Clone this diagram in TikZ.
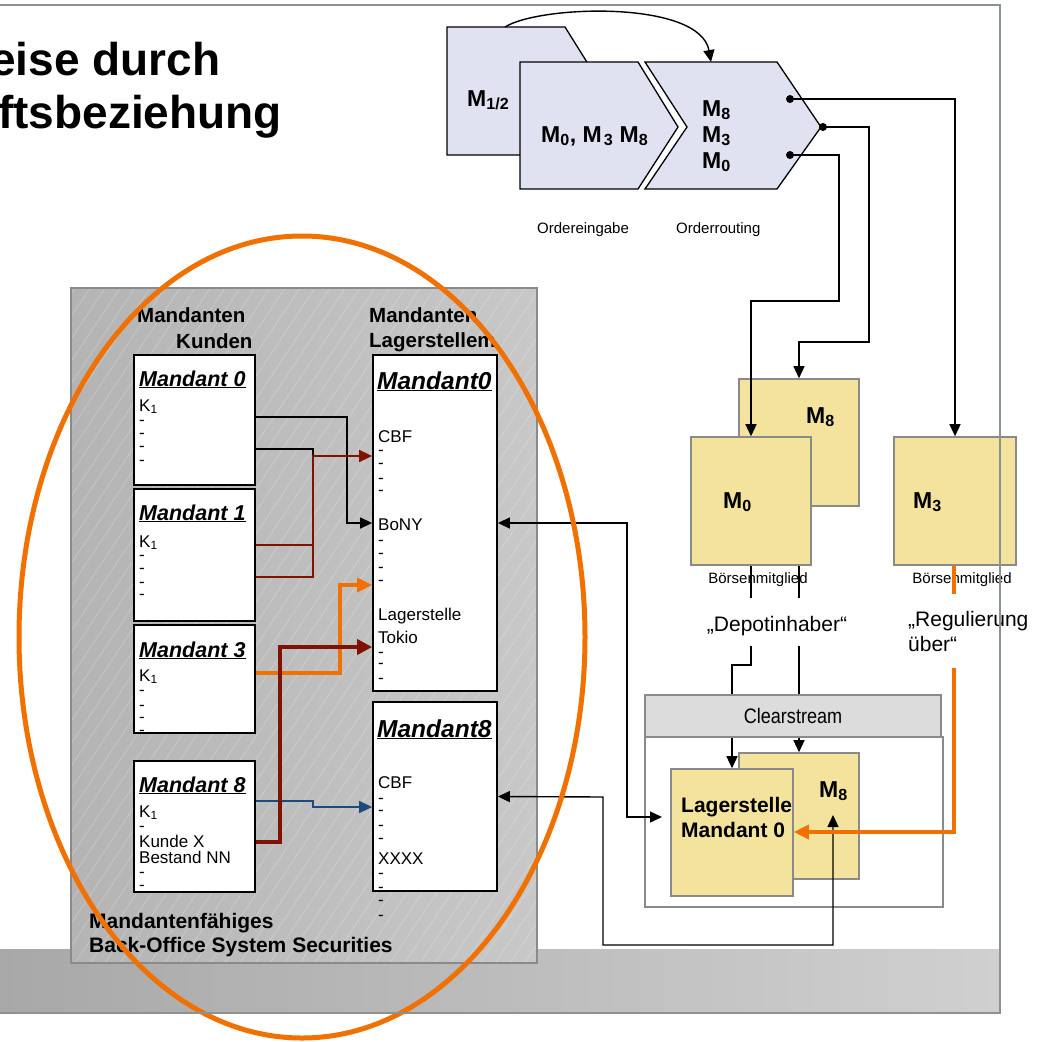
\documentclass[tikz,border=0pt]{standalone}
\usepackage{fontspec}
\setmainfont{Liberation Sans}
\newfontfamily\narrowsans[FakeStretch=0.86]{Liberation Sans}
\usetikzlibrary{arrows.meta}

\definecolor{chevfill}{RGB}{224,226,241}
\definecolor{ylw}{RGB}{243,227,156}
\definecolor{framec}{RGB}{138,146,146}
\definecolor{boxgray}{RGB}{138,138,138}
\definecolor{hdrgray}{RGB}{220,220,220}
\definecolor{drkred}{RGB}{128,18,0}
\definecolor{orng}{RGB}{240,112,0}
\definecolor{bluish}{RGB}{31,73,125}
\definecolor{gboxL}{RGB}{180,180,180}
\definecolor{gboxR}{RGB}{200,200,200}
\definecolor{bandL}{RGB}{168,168,168}
\definecolor{bandR}{RGB}{208,208,208}

\begin{document}
\begin{tikzpicture}[x=1pt,y=-1pt,
  lbl/.style={inner sep=0pt, anchor=base west},
  regtxt/.style={lbl, font=\fontsize{17}{17}\selectfont},
  smalltxt/.style={inner sep=0pt, anchor=base, font=\fontsize{15}{15}\selectfont},
  quotetxt/.style={font=\fontsize{21}{25}\selectfont},
  hdr/.style={lbl, font=\fontsize{20.5}{20.5}\selectfont\bfseries},
  mtitle/.style={lbl, font=\fontsize{21.5}{21.5}\selectfont\bfseries\itshape},
  ltitle/.style={lbl, font=\fontsize{24.5}{24.5}\selectfont\bfseries\itshape},
  chevtxt/.style={lbl, font=\fontsize{23}{23}\selectfont\bfseries},
  ylbl/.style={lbl, font=\fontsize{23}{23}\selectfont\bfseries},
  lagtxt/.style={lbl, font=\fontsize{21}{21}\selectfont\bfseries},
  mbox/.style={rectangle, draw=black, line width=1.8pt, fill=white, inner sep=0pt},
  ybox/.style={rectangle, draw=boxgray, line width=1.6pt, fill=ylw, inner sep=0pt},
  chev/.style={draw=black, line width=1.3pt, fill=chevfill, line join=miter},
  dot/.style={circle, fill=black, inner sep=0pt, minimum size=8pt},
  hatch/.style={white, opacity=0.28, line width=0.6pt},
  plain/.style={line width=1.4pt},
  arr/.style={line width=1.4pt, -{Triangle[length=12pt,width=11pt]}},
  darr/.style={line width=1.4pt, {Triangle[length=12pt,width=11pt]}-{Triangle[length=12pt,width=11pt]}},
  redthin/.style={drkred, line width=1.5pt},
  redarr/.style={drkred, line width=1.5pt, -{Triangle[length=13pt,width=12pt]}},
  redthick/.style={drkred, line width=4.5pt, -{Triangle[length=15pt,width=15pt]}},
  orarr/.style={orng, line width=3.5pt, -{Triangle[length=15pt,width=14pt]}},
  bluearr/.style={bluish, line width=1.5pt, -{Triangle[length=13pt,width=12pt]}}
]
\useasboundingbox (0,0) rectangle (1043,1041);
\clip (0,0) rectangle (1043,1041);
\fill[white] (0,0) rectangle (1043,1041);

% grey band along the bottom
\shade[left color=bandL, right color=bandR] (0,949) rectangle (1000,1013);

% heading
\node[lbl, font=\fontsize{46}{46}\selectfont\bfseries] (title1) at (-10,75) {eise durch};
\node[lbl, font=\fontsize{46}{46}\selectfont\bfseries] (title2) at (-2,128) {ftsbeziehung};

% order entry and routing chevrons
\draw[chev] (447,27) -- (565,27) -- (605,91) -- (565,155) -- (447,155) -- cycle;
\draw[chev] (520,62) -- (638,62) -- (678,127) -- (638,189) -- (520,189) -- cycle;
\draw[chev] (645,62) -- (777,62) -- (821,127) -- (777,189) -- (645,189) -- (687,127) -- cycle;
\node[chevtxt] (m12) at (467,106) {M\textsubscript{1/2}};
\node[chevtxt] (m038) at (541,142) {M\textsubscript{0}, M\kern2pt\textsubscript{3} M\textsubscript{8}};
\node[chevtxt] (r8) at (702,116) {M\textsubscript{8}};
\node[chevtxt] (r3) at (702,142) {M\textsubscript{3}};
\node[chevtxt] (r0) at (702,168) {M\textsubscript{0}};
\node[smalltxt, anchor=base west] (oe) at (537,233) {Ordereingabe};
\node[smalltxt, anchor=base west] (orr) at (676,233) {Orderrouting};
\coordinate (c12top) at (505,27);
\coordinate (rtop) at (711,62);
\draw[arr] (c12top) .. controls (540,5) and (700,0) .. (rtop);

% exchange members
\node[ybox, minimum width=120, minimum height=127] (m8box) at (799,442.5) {};
\node[ybox, minimum width=120, minimum height=128] (m0box) at (751,501) {};
\node[ybox, minimum width=122, minimum height=128] (m3box) at (955,501) {};
\node[ylbl] (m8t) at (806,423) {M\textsubscript{8}};
\node[ylbl] (m0t) at (723,508) {M\textsubscript{0}};
\node[ylbl] (m3t) at (913,508) {M\textsubscript{3}};
\node[smalltxt] (bm0) at (758,583) {Börsenmitglied};
\node[smalltxt] (bm3) at (962,583) {Börsenmitglied};

% routing outputs
\node[dot] (tdot) at (790,99) {};
\node[dot] (mdot) at (823,127) {};
\node[dot] (bdot) at (790,155) {};
\draw[arr] (tdot.center) -- (955,99) -- (m3box.north);
\draw[arr] (mdot.center) -- (869,127) -- (869,342) -- (799,342) -- (m8box.north);
\draw[arr] (bdot.center) -- (839,155) -- (839,301) -- (751,301) -- (m0box.north);

% Clearstream
\node[rectangle, draw=boxgray, line width=1.6pt, fill=white, inner sep=0pt,
      minimum width=298, minimum height=170] (csbody) at (794,822) {};
\node[ybox, minimum width=120, minimum height=126] (cm8) at (799,816) {};
\node[ybox, minimum width=122, minimum height=127] (lag) at (732,832.5) {};
\node[ylbl] (cm8t) at (819,797) {M\textsubscript{8}};
\node[lagtxt] (lagt1) at (681,812) {Lagerstelle};
\node[lagtxt] (lagt2) at (681,837) {Mandant 0};
\draw[arr] (m0box.south) -- (751,665) -- (732,665) -- (lag.north);
\draw[arr] (m0box.south -| cm8.north) -- (cm8.north);
\node[rectangle, draw=boxgray, line width=1.6pt, fill=hdrgray, inner sep=0pt,
      minimum width=296, minimum height=42,
      font=\narrowsans\fontsize{21}{21}\selectfont] (cshead) at (793,716) {Clearstream};

% back-office system
\shade[left color=gboxL, right color=gboxR] (71,288) rectangle (537,963);
\begin{scope}
  \clip (71,288) rectangle (537,963);
  \foreach \i in {-390,-375,...,540} \draw[hatch] (\i,963) -- ++(450,-675);
\end{scope}
\draw[boxgray, line width=1.6pt] (71,288) rectangle (537,963);

\node[hdr] (hk1) at (137,322) {Mandanten};
\node[hdr] (hk2) at (176,348) {Kunden};
\node[hdr] (hl1) at (369,322) {Mandanten};
\node[hdr] (hl2) at (369,347) {Lagerstellem};

% client ledgers
\node[mbox, minimum width=121, minimum height=130] (mk0) at (194.5,420) {};
\node[mbox, minimum width=121, minimum height=132] (mk1) at (194.5,555) {};
\node[mbox, minimum width=121, minimum height=108] (mk3) at (194.5,679) {};
\node[mbox, minimum width=121, minimum height=131] (mk8) at (194.5,826.5) {};

\node[mtitle] (mk0t) at (139,386) {\underline{Mandant 0}};
\node[regtxt] (mk0k) at (139,411) {K\textsubscript{1}};
\foreach \y [count=\k] in {425,438,451,465} \node[regtxt] (mk0d\k) at (139,\y) {-};

\node[mtitle] (mk1t) at (139,520) {\underline{Mandant 1}};
\node[regtxt] (mk1k) at (139,547) {K\textsubscript{1}};
\foreach \y [count=\k] in {560,573,587,599} \node[regtxt] (mk1d\k) at (139,\y) {-};

\node[mtitle] (mk3t) at (139,657) {\underline{Mandant 3}};
\node[regtxt] (mk3k) at (139,681) {K\textsubscript{1}};
\foreach \y [count=\k] in {695,710,722,735} \node[regtxt] (mk3d\k) at (139,\y) {-};

\node[mtitle] (mk8t) at (139,792) {\underline{Mandant 8}};
\node[regtxt] (mk8k) at (139,817) {K\textsubscript{1}};
\node[regtxt] (mk8d1) at (139,831) {-};
\node[regtxt] (mk8x) at (139,847) {Kunde X};
\node[regtxt] (mk8b) at (139,863) {Bestand NN};
\node[regtxt] (mk8d2) at (139,877) {-};
\node[regtxt] (mk8d3) at (139,890) {-};

% custody ledgers
\node[mbox, minimum width=124, minimum height=336] (ml0) at (435,523) {};
\node[mbox, minimum width=124, minimum height=189] (ml8) at (435,796.5) {};

\node[ltitle] (ml0t) at (377,389) {\underline{Mandant0}};
\node[regtxt] (ml0c) at (378,442) {CBF};
\foreach \y [count=\k] in {455,468,483,495} \node[regtxt] (ml0a\k) at (378,\y) {-};
\node[regtxt] (ml0b) at (378,530) {BoNY};
\foreach \y [count=\k] in {545,558,572,585} \node[regtxt] (ml0b\k) at (378,\y) {-};
\node[regtxt] (ml0l) at (378,620) {Lagerstelle};
\node[regtxt] (ml0tk) at (378,643) {Tokio};
\foreach \y [count=\k] in {657,668,683} \node[regtxt] (ml0c\k) at (378,\y) {-};

\node[ltitle] (ml8t) at (377,737) {\underline{Mandant8}};
\node[regtxt] (ml8c) at (378,788) {CBF};
\foreach \y [count=\k] in {803,815,830,843} \node[regtxt] (ml8a\k) at (378,\y) {-};
\node[regtxt] (ml8x) at (378,864) {XXXX};
\foreach \y [count=\k] in {878,892,905,920} \node[regtxt] (ml8b\k) at (378,\y) {-};

\node[lbl, font=\fontsize{21}{21}\selectfont\bfseries] (bo1) at (89,928) {Mandantenfähiges};
\node[lbl, font=\fontsize{21}{21}\selectfont\bfseries] (bo2) at (89,952) {Back-Office System Securities};

% client to custody mappings
\draw[arr] (mk0.east |- 0,417) -- (347,417) -- (347,523) -- (ml0.west);
\draw[plain] (mk0.east |- 0,449) -- (313,449) -- (313,456);
\draw[redthin] (mk1.east |- 0,545) -- (313,545);
\draw[redarr] (mk1.east |- 0,577) -- (313,577) -- (313,456) -- (ml0.west |- 0,456);
\draw[orarr] (mk3.east |- 0,673) -- (340,673) -- (340,585) -- (ml0.west |- 0,585);
\draw[bluearr] (mk8.east |- 0,801) -- (313,801) -- (313,807) -- (ml8.west |- 0,807);
\draw[redthick] (mk8.east |- 0,842) -- (280,842) -- (280,647) -- (ml0.west |- 0,647);

% links to the custodian
\coordinate (lagin) at (662,817);
\draw[darr] (ml0.east) -- (627,523) -- (627,817) -- (lagin);
\coordinate (cm8in) at (833,815);
\draw[darr] (ml8.east) -- (603,797) -- (603,945) -- (833,945) -- (cm8in);
\draw[orarr] (954,0 |- m3box.south) -- (954,832) -- (lag.east |- 0,832);

% role labels
\node[anchor=base, inner sep=0pt, inner xsep=3pt, fill=white, text height=33pt, text depth=15pt,
      font=\fontsize{21}{21}\selectfont] (dep) at (777,631) {„Depotinhaber“};
\node[anchor=north west, inner sep=0pt, inner xsep=2pt, fill=white, minimum height=74pt,
      align=left, quotetxt] (reg) at (906,594) {„Regulierung\\über“};

% focus ellipse
\draw[orng, line width=5pt] (302,637) ellipse [x radius=283, y radius=401];

% page frame
\draw[framec, line width=2.5pt] (0,5) -- (1000,5) -- (1000,1013) -- (0,1013);
\end{tikzpicture}
\end{document}
